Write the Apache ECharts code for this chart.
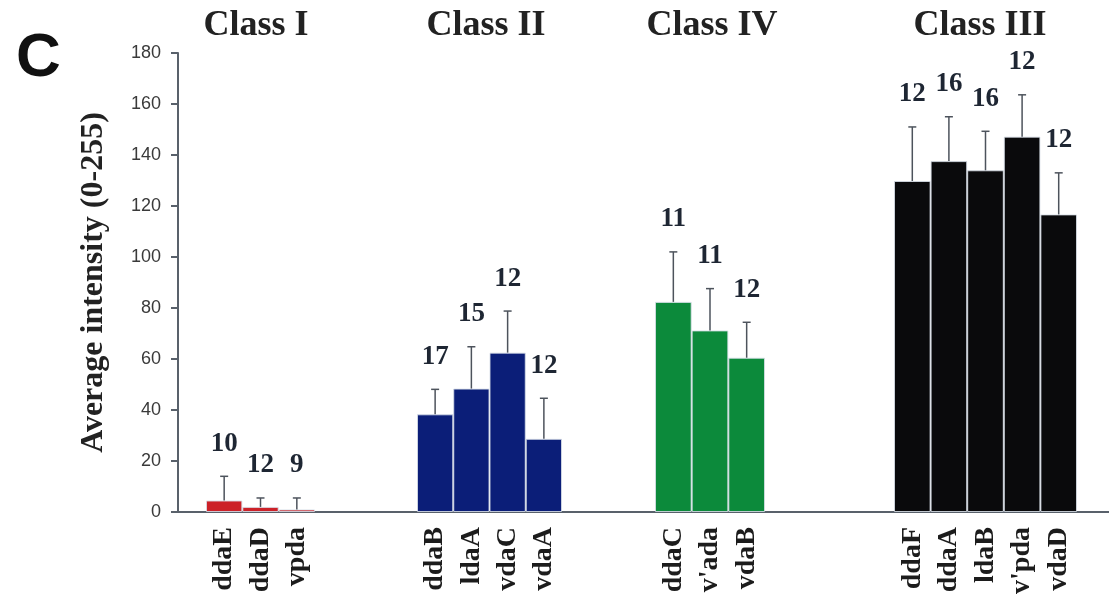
<!DOCTYPE html>
<html>
<head>
<meta charset="utf-8">
<script src="https://cdn.jsdelivr.net/npm/echarts@6/dist/echarts.min.js"></script>
<style>
  html, body { margin: 0; padding: 0; background: #fff; }
  #chart { width: 1109px; height: 598px; }
</style>
</head>
<body>
<div id="chart"></div>
<script>
// Average intensity (0-255) of dendritic arborization neurons, by class.
const classNames = ['Class I', 'Class II', 'Class IV', 'Class III'];

const cellsI = ['ddaE', 'ddaD', 'vpda'];
const meanI = [4.5, 2, 1];
const sdI = [9.5, 3.5, 4.5];
const nI = [10, 12, 9];

const cellsII = ['ddaB', 'ldaA', 'vdaC', 'vdaA'];
const meanII = [38.3, 48.4, 62.5, 28.7];
const sdII = [9.8, 16.4, 16.3, 15.9];
const nII = [17, 15, 12, 12];

const cellsIV = ['ddaC', "v'ada", 'vdaB'];
const meanIV = [82.4, 71.2, 60.5];
const sdIV = [19.6, 16.4, 13.9];
const nIV = [11, 11, 12];

const cellsIII = ['ddaF', 'ddaA', 'ldaB', "v'pda", 'vdaD'];
const meanIII = [129.8, 137.6, 134, 147.2, 116.7];
const sdIII = [21.2, 17.4, 15.3, 16.4, 16.3];
const nIII = [12, 16, 16, 12, 12];

const yTicks = [0, 20, 40, 60, 80, 100, 120, 140, 160, 180];

// group definitions (data) and their drawing styles (layout)
const groups = [
  { cells: cellsI, mean: meanI, sd: sdI, n: nI },
  { cells: cellsII, mean: meanII, sd: sdII, n: nII },
  { cells: cellsIV, mean: meanIV, sd: sdIV, n: nIV },
  { cells: cellsIII, mean: meanIII, sd: sdIII, n: nIII }
];
const groupColors = ['#cc2128', '#0b1e78', '#0c8a3b', '#0a0a0c'];
const groupLayout = [
  { left: 206, width: 109, titleX: 256 },
  { left: 417, width: 145, titleX: 486 },
  { left: 655, width: 110, titleX: 712 },
  { left: 894, width: 183, titleX: 980 }
];

const TOP = 53, BOTTOM = 86;
const serif = '"Liberation Serif", "DejaVu Serif", serif';
const sans = '"Liberation Sans", Arial, sans-serif';
const axisColor = '#59616b';

const grids = [{ left: 178, right: 0, top: TOP, bottom: BOTTOM }];
const xAxes = [{
  gridIndex: 0, type: 'value', min: 0, max: 1,
  axisLine: { show: true, lineStyle: { color: axisColor, width: 2 } },
  axisTick: { show: false }, axisLabel: { show: false }, splitLine: { show: false }
}];
const yAxes = [{
  gridIndex: 0, type: 'value', min: yTicks[0], max: yTicks[yTicks.length - 1],
  interval: yTicks[1] - yTicks[0],
  name: 'Average intensity (0-255)',
  nameLocation: 'middle', nameRotate: 90, nameGap: 68,
  nameTextStyle: { fontFamily: serif, fontWeight: 'bold', fontSize: 32, color: '#222' },
  axisLine: { show: true, lineStyle: { color: axisColor, width: 2 } },
  axisTick: { show: true, inside: false, length: 7, lineStyle: { color: axisColor, width: 2 } },
  axisLabel: { fontFamily: sans, fontSize: 18, color: '#3a3a3a', margin: 17 },
  splitLine: { show: false }
}];
const series = [];
const graphics = [{
  type: 'text', left: 16, top: 28,
  style: { text: 'C', font: 'bold 62px ' + sans, fill: '#111' }
}];

groups.forEach((g, gi) => {
  const lay = groupLayout[gi];
  const idx = gi + 1;
  grids.push({ left: lay.left, width: lay.width, top: TOP, bottom: BOTTOM });
  xAxes.push({
    gridIndex: idx, type: 'category', data: g.cells,
    axisLine: { show: false }, axisTick: { show: false },
    axisLabel: {
      rotate: 90, margin: 15, interval: 0,
      fontFamily: serif, fontWeight: 'bold', fontSize: 28, color: '#1c1c1c'
    }
  });
  yAxes.push({
    gridIndex: idx, type: 'value', min: yTicks[0], max: yTicks[yTicks.length - 1],
    show: false
  });
  series.push({
    type: 'bar', xAxisIndex: idx, yAxisIndex: idx,
    data: g.mean, barCategoryGap: '0%',
    itemStyle: { color: groupColors[gi], borderColor: 'rgba(215,222,232,0.85)', borderWidth: 1 },
    z: 2
  });
  series.push({
    type: 'custom', xAxisIndex: idx, yAxisIndex: idx,
    data: g.cells.map((c, k) => [k, g.mean[k], g.sd[k], g.n[k]]),
    encode: { x: 0, y: 1 },
    z: 3,
    renderItem: function (params, api) {
      const k = api.value(0), m = api.value(1), s = api.value(2);
      const base = api.coord([k, m]);
      const top = api.coord([k, m + s]);
      const lineStyle = { stroke: '#4d535c', lineWidth: 1.5 };
      return {
        type: 'group',
        children: [
          { type: 'line', shape: { x1: base[0], y1: base[1], x2: top[0], y2: top[1] }, style: lineStyle },
          { type: 'line', shape: { x1: top[0] - 4, y1: top[1], x2: top[0] + 4, y2: top[1] }, style: lineStyle },
          {
            type: 'text', x: top[0], y: top[1] - 19,
            style: {
              text: String(api.value(3)),
              font: 'bold 27px ' + serif,
              fill: '#1e2633',
              textAlign: 'center', textVerticalAlign: 'bottom',
              align: 'center', verticalAlign: 'bottom'
            }
          }
        ]
      };
    }
  });
  graphics.push({
    type: 'text', x: lay.titleX, y: 26,
    style: {
      text: classNames[gi],
      font: 'bold 36px ' + serif,
      fill: '#222',
      textAlign: 'center', textVerticalAlign: 'middle',
      align: 'center', verticalAlign: 'middle'
    }
  });
});

const chart = echarts.init(document.getElementById('chart'), null, { renderer: 'canvas' });
chart.setOption({
  backgroundColor: '#ffffff',
  animation: false,
  grid: grids,
  xAxis: xAxes,
  yAxis: yAxes,
  series: series,
  graphic: graphics
});
</script>
</body>
</html>
